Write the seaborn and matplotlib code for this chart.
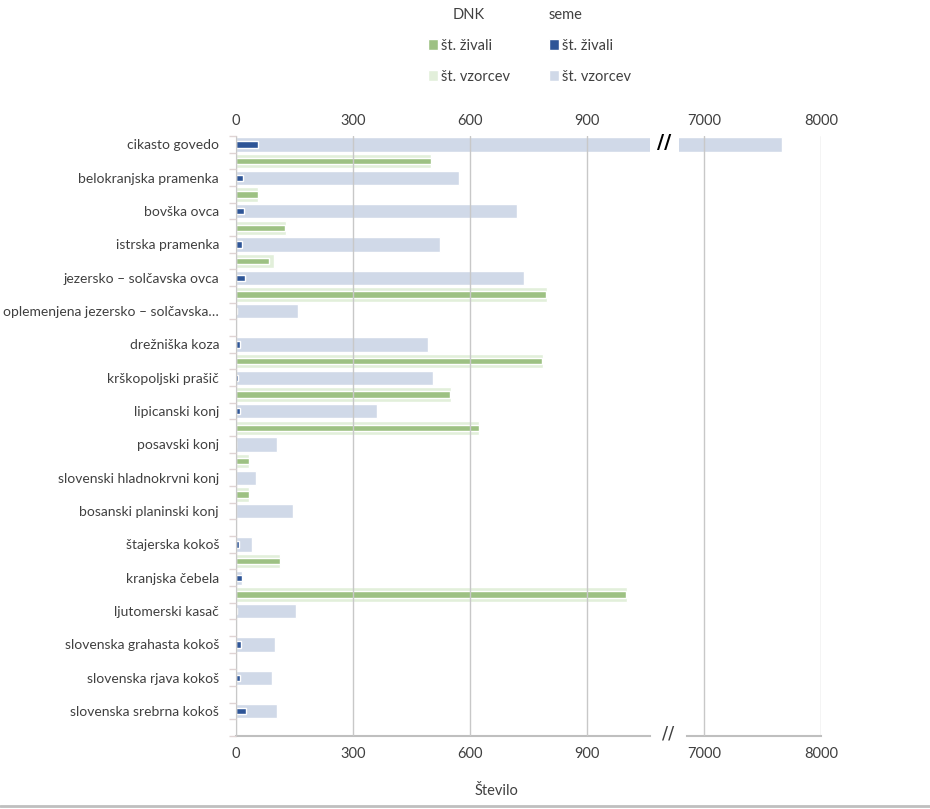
import numpy as np
import pandas as pd
import matplotlib
matplotlib.use("Agg")
import matplotlib.pyplot as plt
from matplotlib.patches import Patch
from matplotlib.lines import Line2D
import seaborn as sns

# ---------------- data ----------------
categories = [
    "cikasto govedo", "belokranjska pramenka", "bovška ovca", "istrska pramenka",
    "jezersko – solčavska ovca", "oplemenjena jezersko – solčavska…", "drežniška koza",
    "krškopoljski prašič", "lipicanski konj", "posavski konj", "slovenski hladnokrvni konj",
    "bosanski planinski konj", "štajerska kokoš", "kranjska čebela", "ljutomerski kasač",
    "slovenska grahasta kokoš", "slovenska rjava kokoš", "slovenska srebrna kokoš",
]
seme_vzorcev = [7667, 573, 722, 525, 740, 161, 494, 506, 361, 106, 52, 147, 43, 17, 155, 102, 94, 106]
seme_zivali = [58, 18, 20, 16, 24, 4, 12, 7, 11, 2, None, None, 8, 16, 3, 14, 12, 26]
dnk_vzorcev = [502, 56, 128, 99, 798, None, 788, 552, 625, 35, 35, None, 114, 1003, 4, None, None, None]
dnk_zivali = [500, 56, 127, 86, 796, None, 786, 550, 623, 34, 34, None, 114, 1001, 3, None, None, None]

x_ticks_left = [0, 300, 600, 900]
x_ticks_right = [7000, 8000]
legend_titles = ["DNK", "seme"]
legend_labels = ["št. živali", "št. vzorcev"]
x_label = "Število"

# ---------------- style ----------------
sns.set_style("white")
plt.rcParams["font.family"] = ["Lato", "DejaVu Sans"]

c_sv = "#d0d9e8"   # seme vzorcev
c_sz = "#2e5597"   # seme zivali
c_dv = "#e2efda"   # DNK vzorcev
c_dz = "#9dc183"   # DNK zivali
txt = "#404040"
grid_c = "#c8c8c8"

n = len(categories)
order = []
for i in range(n):
    order += [f"s{i}", f"d{i}"]

seme = pd.DataFrame({"row": [f"s{i}" for i in range(n)],
                     "vzorcev": seme_vzorcev, "zivali": seme_zivali})
dnk = pd.DataFrame({"row": [f"d{i}" for i in range(n)],
                    "vzorcev": dnk_vzorcev, "zivali": dnk_zivali})

W, H = 930, 809
fig = plt.figure(figsize=(W / 100, H / 100), dpi=100)

def fx(px):
    return px / W

def fy(py):
    return 1 - py / H

top_px, bot_px = 136, 736
axL = fig.add_axes([fx(235.7), fy(bot_px), (650.3 - 235.7) / W, (bot_px - top_px) / H])
axR = fig.add_axes([fx(678.7), fy(bot_px), (821.3 - 678.7) / W, (bot_px - top_px) / H])

for ax in (axL, axR):
    for df, col, color, w in [(seme, "vzorcev", c_sv, 0.86), (seme, "zivali", c_sz, 0.38),
                              (dnk, "vzorcev", c_dv, 0.86), (dnk, "zivali", c_dz, 0.38)]:
        d = df.dropna(subset=[col])
        sns.barplot(data=d, y="row", x=col, order=order, color=color, width=w,
                    saturation=1, errorbar=None, orient="h", ax=ax)
    ax.set_xlabel("")
    ax.set_ylabel("")
    ax.set_ylim(len(order) - 0.5, -0.5)
    ax.set_axisbelow(False)
    ax.grid(axis="x", color=grid_c, lw=1)
    ax.grid(axis="y", visible=False)
    for s in ("top", "right"):
        ax.spines[s].set_visible(False)
    ax.spines["bottom"].set_color("#bfbfbf")
    ax.spines["bottom"].set_linewidth(1.5)

axL.set_xlim(0, 1063)
axR.set_xlim(6781, 8000)
axL.set_xticks(x_ticks_left)
axR.set_xticks(x_ticks_right)
axR.spines["left"].set_visible(False)
axR.spines["bottom"].set_bounds(6854, 8000)
axL.spines["left"].set_color("#c8c8c8")

for ax, ticks in ((axL, x_ticks_left), (axR, x_ticks_right)):
    ax.tick_params(axis="x", bottom=False, top=False, labelbottom=True, labeltop=False,
                   labelsize=10.5, labelcolor=txt, pad=4.5)
    sec = ax.secondary_xaxis("top")
    sec.set_xticks(ticks)
    sec.tick_params(axis="x", top=False, labelsize=10.5, labelcolor=txt, pad=2.5)
    sec.spines["top"].set_visible(False)

# y axis labels
ylabels = []
for c in categories:
    ylabels += [c, ""]
axL.set_yticks(range(len(order)))
axL.set_yticklabels(ylabels)
axL.set_yticks(np.arange(-0.5, len(order), 1), minor=True)
axL.tick_params(axis="y", which="major", length=0, pad=12, labelsize=10, labelcolor=txt)
axL.tick_params(axis="y", which="minor", left=True, length=5, width=1, color="#e0d4d4", direction="out")
axR.tick_params(axis="y", which="both", left=False, labelleft=False)

# break marks
fig.text(fx(664), fy(143), "//", ha="center", va="center", fontsize=14, fontweight="bold", color="black",
         family="DejaVu Sans")
fig.text(fx(668), fy(734), "//", ha="center", va="center", fontsize=13, color=txt, family="DejaVu Sans")

# legends
handles_dnk = [Patch(facecolor=c_dz), Patch(facecolor=c_dv)]
handles_sem = [Patch(facecolor=c_sz), Patch(facecolor=c_sv)]
legkw = dict(loc="upper left", frameon=False, fontsize=10.5, title_fontsize=10.5,
             handlelength=0.7, handleheight=0.75, handletextpad=0.2, labelspacing=1.15,
             borderpad=0, borderaxespad=0, labelcolor=txt)
leg1 = fig.legend(handles_dnk, legend_labels, title=legend_titles[0],
                  bbox_to_anchor=(fx(428), fy(8)), **legkw)
leg2 = fig.legend(handles_sem, legend_labels, title=legend_titles[1],
                  bbox_to_anchor=(fx(549), fy(8)), alignment="left", **legkw)
for lg in (leg1, leg2):
    lg.get_title().set_color(txt)

fig.text(fx(496), fy(791), x_label, ha="center", va="center", fontsize=10.5, color=txt)
fig.add_artist(Line2D([0, 1], [fy(806), fy(806)], transform=fig.transFigure, color="#bfbfbf", lw=2))

fig.savefig("out.png", dpi=100)
